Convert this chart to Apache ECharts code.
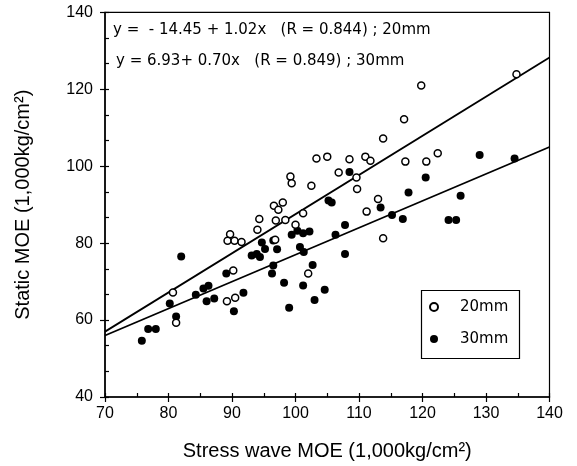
<!DOCTYPE html>
<html>
<head>
<meta charset="utf-8">
<script src="https://cdn.jsdelivr.net/npm/echarts@6/dist/echarts.min.js"></script>
<style>
html,body{margin:0;padding:0;background:#fff;}
#c{width:577px;height:466px;}
</style>
</head>
<body>
<div id="c"></div>
<script>
// ---- data ----
const x20 = [80.7,81.2,89.2,90.5,90.2,89.7,89.3,90.4,91.5,94.0,94.3,96.9,98.4,100.0,96.6,98.0,97.3,99.2,99.4,102.5,101.2,96.8,102.0,106.8,109.6,109.7,103.3,105.0,108.5,111.0,111.8,111.2,113.0,113.8,113.8,117.1,119.8,117.3,120.6,122.4,134.8];
const y20 = [67.2,59.3,64.9,65.8,72.9,82.3,80.6,80.6,80.3,83.5,86.3,85.9,86.0,84.8,89.7,90.6,88.7,97.3,95.6,94.9,87.8,80.9,72.1,98.4,97.1,94.1,102.0,102.5,101.8,102.5,101.4,88.2,91.5,81.3,107.2,112.2,121.0,101.2,101.2,103.4,123.9];
const x30 = [75.8,76.8,78.0,80.2,81.2,82.0,84.3,85.5,86.3,86.0,87.2,89.1,90.3,91.8,93.1,93.9,94.4,94.7,95.2,96.5,97.1,96.5,96.3,98.2,99.0,99.4,100.3,101.2,102.2,100.7,101.3,101.2,102.7,103.0,104.6,105.2,105.7,106.3,107.8,107.8,108.5,113.4,115.2,116.9,117.8,120.5,124.1,125.3,126.0,129.0,134.5];
const y30 = [54.6,57.7,57.7,64.3,60.9,76.5,66.6,68.2,68.9,64.9,65.6,72.1,62.3,67.1,76.8,77.2,76.4,80.2,78.5,80.7,78.4,74.2,72.1,69.7,63.2,82.2,83.2,82.6,83.0,79.0,77.7,69.0,74.3,65.2,67.9,91.1,90.6,82.2,84.7,77.2,98.5,89.3,87.3,86.3,93.2,97.1,86.0,86.0,92.3,102.9,102.0];
const lineX = [70, 140];
const line20Y = [57.0, 128.3];
const line30Y = [56.0, 105.0];
const seriesNames = ['20mm', '30mm'];
const eq20 = 'y =  - 14.45 + 1.02x   (R = 0.844) ; 20mm';
const eq30 = 'y = 6.93+ 0.70x   (R = 0.849) ; 30mm';
const xTitle = 'Stress wave MOE (1,000kg/cm²)';
const yTitle = 'Static MOE (1,000kg/cm²)';

const pairs = (xs, ys) => xs.map((x, i) => [x, ys[i]]);

const chart = echarts.init(document.getElementById('c'), null, {renderer: 'canvas'});
const labelFont = 'Liberation Sans, Arial, sans-serif';
const eqFont = 'DejaVu Sans, sans-serif';

chart.setOption({
  animation: false,
  backgroundColor: '#fff',
  grid: {left: 105, right: 27.5, top: 12.4, bottom: 67, show: true, borderColor: '#000', borderWidth: 1.2},
  xAxis: [
    {type: 'value', min: 70, max: 140, interval: 10, position: 'bottom',
     axisLine: {show: true, lineStyle: {color: '#000', width: 1.5}},
     axisTick: {show: true, inside: false, length: 5, lineStyle: {color: '#000', width: 1.2}},
     axisLabel: {color: '#000', fontSize: 16, fontFamily: labelFont, margin: 9},
     splitLine: {show: false},
     name: xTitle, nameLocation: 'middle', nameGap: 44,
     nameTextStyle: {fontSize: 20, fontFamily: labelFont, color: '#000'}},
    {type: 'value', min: 70, max: 140, interval: 5, position: 'bottom',
     axisLine: {show: false},
     axisTick: {show: true, inside: true, length: 4, lineStyle: {color: '#000', width: 1.2}},
     axisLabel: {show: false}, splitLine: {show: false}}
  ],
  yAxis: [
    {type: 'value', min: 40, max: 140, interval: 20, position: 'left',
     axisLine: {show: true, lineStyle: {color: '#000', width: 1.5}},
     axisTick: {show: true, inside: false, length: 5, lineStyle: {color: '#000', width: 1.2}},
     axisLabel: {color: '#000', fontSize: 16, fontFamily: labelFont, margin: 12},
     splitLine: {show: false},
     name: yTitle, nameLocation: 'middle', nameGap: 72, nameRotate: 90,
     nameTextStyle: {fontSize: 20, fontFamily: labelFont, color: '#000'}},
    {type: 'value', min: 40, max: 140, interval: 20 / 3, position: 'left',
     axisLine: {show: false},
     axisTick: {show: true, inside: true, length: 4, lineStyle: {color: '#000', width: 1.2}},
     axisLabel: {show: false}, splitLine: {show: false}}
  ],
  legend: {
    left: 429, top: 291, orient: 'vertical',
    padding: [8, 0, 8, 0],
    itemWidth: 42, itemHeight: 8, itemGap: 16,
    textStyle: {fontSize: 15, fontFamily: eqFont, color: '#000', lineHeight: 16},
    data: seriesNames
  },
  graphic: [
    {type: 'rect', left: 419, top: 288, shape: {width: 98, height: 68},
     style: {fill: 'none', stroke: '#000', lineWidth: 1.2}, z: 0, silent: true},
    {type: 'text', left: 113, top: 23, style: {text: eq20, font: '15px ' + eqFont, fill: '#000'}},
    {type: 'text', left: 116, top: 54, style: {text: eq30, font: '15px ' + eqFont, fill: '#000'}}
  ],
  series: [
    {name: 'fit20', type: 'line', data: pairs(lineX, line20Y), symbol: 'none', silent: true,
     lineStyle: {color: '#000', width: 1.8}, z: 1},
    {name: 'fit30', type: 'line', data: pairs(lineX, line30Y), symbol: 'none', silent: true,
     lineStyle: {color: '#000', width: 1.8}, z: 1},
    {name: seriesNames[0], type: 'scatter', data: pairs(x20, y20), symbol: 'circle', symbolSize: 7,
     itemStyle: {color: '#fff', borderColor: '#000', borderWidth: 1.5, opacity: 1}, z: 3},
    {name: seriesNames[1], type: 'scatter', data: pairs(x30, y30), symbol: 'circle', symbolSize: 8,
     itemStyle: {color: '#000', opacity: 1}, z: 2}
  ]
});
</script>
</body>
</html>
